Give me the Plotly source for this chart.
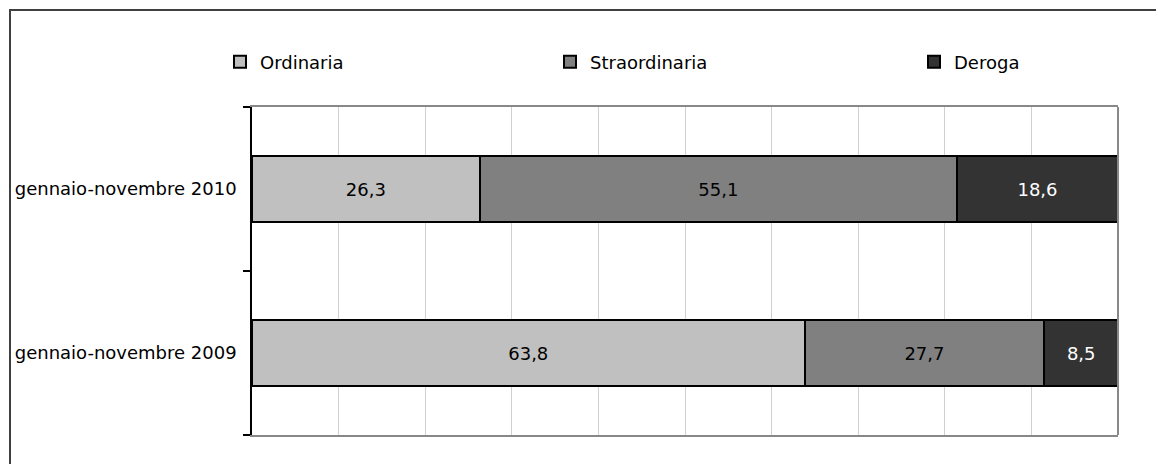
import plotly.graph_objects as go

# Categories (bottom to top) and the share of each type of hours, in percent
periods = ["gennaio-novembre 2009", "gennaio-novembre 2010"]
ordinaria = [63.8, 26.3]
straordinaria = [27.7, 55.1]
deroga = [8.5, 18.6]

series_names = ["Ordinaria", "Straordinaria", "Deroga"]
series_values = [ordinaria, straordinaria, deroga]
fill_colors = ["#c0c0c0", "#808080", "#333333"]
label_colors = ["#000000", "#000000", "#ffffff"]
legend_ids = ["legend", "legend2", "legend3"]

FONT = "DejaVu Sans, Verdana, sans-serif"

fig = go.Figure()
for name, vals, fill, lab, lg in zip(series_names, series_values, fill_colors,
                                     label_colors, legend_ids):
    fig.add_trace(go.Bar(
        y=periods, x=vals, name=name, orientation="h",
        marker=dict(color=fill, line=dict(color="#000000", width=2)),
        texttemplate="%{x:.1f}", textposition="inside",
        insidetextanchor="middle", textangle=0,
        textfont=dict(family=FONT, size=18, color=lab),
        legend=lg, hoverinfo="skip",
    ))

# Plot area in pixels: x 252..1118, y 107..435
W, H = 1156, 464
L, R, T, B = 252, 1118, 107, 435


def px_x(p):
    return (p - L) / (R - L)


def px_y(p):
    return (B - p) / (B - T)


legend_common = dict(
    orientation="h", xanchor="left", yanchor="middle",
    font=dict(family=FONT, size=18, color="#000000"),
    bgcolor="rgba(0,0,0,0)", itemwidth=30, itemclick=False,
)

fig.update_layout(
    width=W, height=H,
    margin=dict(l=L, r=W - R, t=T, b=H - B, pad=0),
    paper_bgcolor="#ffffff", plot_bgcolor="#ffffff",
    barmode="stack", bargap=0.6,
    separators=",.",
    font=dict(family=FONT, size=18, color="#000000"),
    showlegend=True,
    legend=dict(x=px_x(220), y=px_y(62), **legend_common),
    legend2=dict(x=px_x(550), y=px_y(62), **legend_common),
    legend3=dict(x=px_x(914), y=px_y(62), **legend_common),
    xaxis=dict(
        range=[0, 100], dtick=10, showticklabels=False, ticks="",
        showgrid=True, gridcolor="#d0d0d0", gridwidth=1, zeroline=False,
        showline=True, linecolor="#888888", linewidth=2, mirror=True,
        fixedrange=True,
    ),
    yaxis=dict(
        type="category", categoryorder="array", categoryarray=periods,
        showgrid=False, zeroline=False,
        showline=True, linecolor="#000000", linewidth=1.5,
        ticks="outside", tickson="boundaries", ticklen=7, tickwidth=1.5,
        tickcolor="#000000", ticklabelstandoff=10,
        tickfont=dict(family=FONT, size=18, color="#000000"),
        fixedrange=True,
    ),
    shapes=[
        # right edge of the plotting frame
        dict(type="line", xref="x domain", yref="y domain",
             x0=1, x1=1, y0=0, y1=1,
             line=dict(color="#888888", width=2)),
        # outer chart border
        dict(type="rect", xref="paper", yref="paper",
             x0=px_x(10), x1=px_x(1170), y0=px_y(10), y1=px_y(480),
             line=dict(color="#404040", width=2), layer="below"),
    ],
)

fig.write_html("out.html", config=dict(displayModeBar=False))
